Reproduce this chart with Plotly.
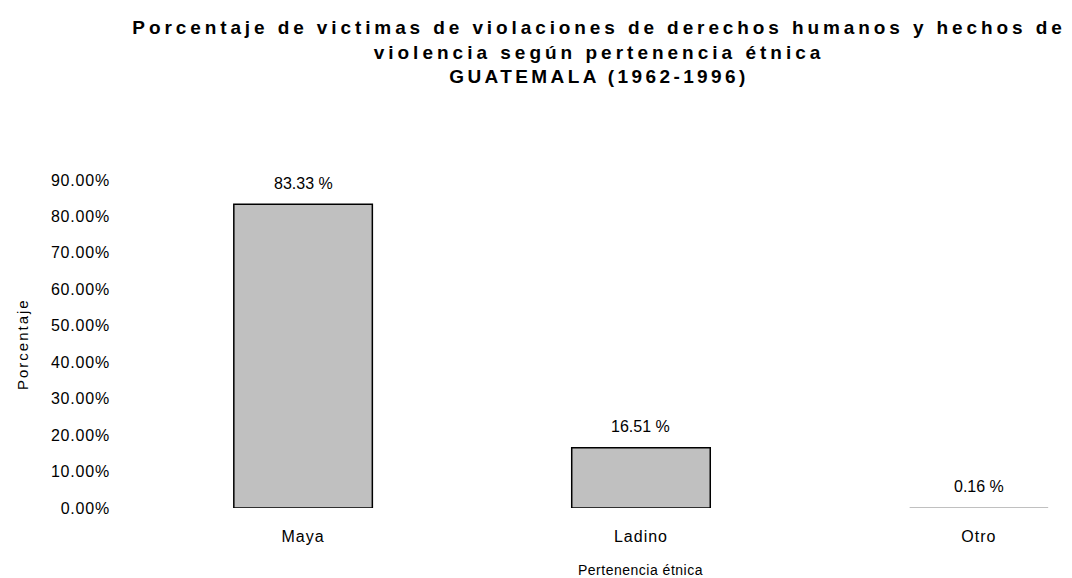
import plotly.graph_objects as go

categories = ["Maya", "Ladino", "Otro"]
values = [0.8333, 0.1651, 0.0016]
label_texts = ["83.33 %", "16.51 %", "0.16 %"]
tick_vals = [0.0, 0.1, 0.2, 0.3, 0.4, 0.5, 0.6, 0.7, 0.8, 0.9]
tick_texts = ["0.00%", "10.00%", "20.00%", "30.00%", "40.00%", "50.00%",
              "60.00%", "70.00%", "80.00%", "90.00%"]

FONT = "Arial, 'Liberation Sans', sans-serif"
OFF = 8  # page body margin
PLOT_L, PLOT_R = 125, 1060  # page px


def spaced(s, px):
    return f'<span style="letter-spacing:{px}px">{s}</span>'


fig = go.Figure()
fig.add_trace(go.Bar(
    x=list(range(len(categories))),
    y=values,
    width=0.41,
    marker=dict(color="#C0C0C0", line=dict(color="#000000", width=[1.5, 1.5, 0])),
    hoverinfo="skip",
))

for i, (v, t) in enumerate(zip(values, label_texts)):
    fig.add_annotation(x=i, y=v, xref="x", yref="y", text=t, showarrow=False,
                       yanchor="middle", yshift=21,
                       font=dict(family=FONT, size=16, color="#000000"))

fig.add_annotation(x=1, y=0, xref="x", yref="paper", text=spaced("Pertenencia étnica", 0.5),
                   showarrow=False, yanchor="middle", yshift=-62,
                   font=dict(family=FONT, size=14, color="#000000"))

fig.add_annotation(x=(22 - PLOT_L) / (PLOT_R - PLOT_L), y=0.5, xref="paper", yref="paper",
                   text=spaced("Porcentaje", 2), textangle=-90, showarrow=False,
                   xanchor="center", yanchor="middle",
                   font=dict(family=FONT, size=15, color="#000000"))

W, H = 1072 - OFF, 578 - OFF
fig.update_layout(
    width=W, height=H,
    margin=dict(l=PLOT_L - OFF, r=1072 - PLOT_R, t=180 - OFF, b=70),
    paper_bgcolor="white", plot_bgcolor="white",
    showlegend=False,
    font=dict(family=FONT, color="#000000"),
    title=dict(
        text="<b>" + spaced("Porcentaje de victimas de violaciones de derechos humanos y hechos de", 3.9)
             + "<br>" + spaced("violencia según pertenencia étnica", 4)
             + "<br>" + spaced("GUATEMALA (1962-1996)", 3.4) + "</b>",
        x=(599 - OFF) / W, xanchor="center", xref="container",
        y=1 - 26 / H, yanchor="top", yref="container",
        font=dict(family=FONT, size=19, color="#000000"),
    ),
    xaxis=dict(
        range=[-0.527, 2.24],
        tickvals=list(range(len(categories))),
        ticktext=[spaced(c, 1) for c in categories],
        showgrid=False, zeroline=False, showline=False,
        ticks="", ticklabelstandoff=17,
        tickfont=dict(family=FONT, size=16, color="#000000"),
    ),
    yaxis=dict(
        range=[0, 0.9],
        tickvals=tick_vals,
        ticktext=[spaced(t, 0.8) for t in tick_texts],
        showgrid=False, zeroline=False, showline=False,
        ticks="", ticklabelstandoff=14,
        tickfont=dict(family=FONT, size=16, color="#000000"),
        automargin=False,
    ),
)

fig.write_html("out.html")
